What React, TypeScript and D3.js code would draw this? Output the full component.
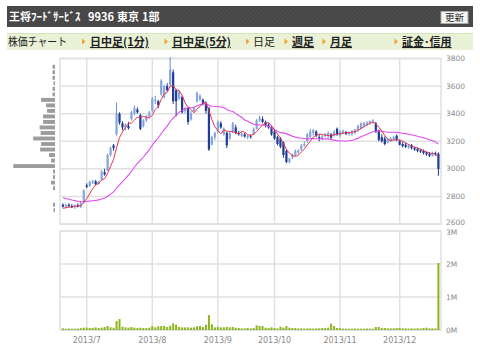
import React from "react";
import * as d3 from "d3";

// ---------- data ----------
const titleParts = ["王将ﾌｰﾄﾞｻｰﾋﾞｽ", "9936", "東京", "1部"];
const refreshLabel = "更新";
const navLead = "株価チャート";
const navLinks = ["日中足(1分)", "日中足(5分)", "日足", "週足", "月足", "証金･信用"];
const navActive = "日足";

const monthLabels = ["2013/7", "2013/8", "2013/9", "2013/10", "2013/11", "2013/12"];
const monthStartIdx = [8, 30, 52, 71, 93, 113];
const priceTicks = [2600, 2800, 3000, 3200, 3400, 3600, 3800];
const volumeTicks = [0, 1000, 2000, 3000]; // thousand shares
const volumeTickLabels = ["0M", "1M", "2M", "3M"];

const opens = [
  2740, 2725, 2740, 2730, 2720, 2735, 2725, 2755, 2880, 2875,
  2900, 2910, 2890, 2920, 2975, 2990, 3100, 3170, 3250, 3400,
  3330, 3300, 3310, 3360, 3400, 3430, 3390, 3310, 3350, 3380,
  3420, 3490, 3490, 3540, 3520, 3600, 3610, 3700, 3570, 3510,
  3520, 3420, 3440, 3360, 3420, 3490, 3500, 3500, 3470, 3440,
  3175, 3230, 3270, 3330, 3250, 3260, 3220, 3270, 3300, 3260,
  3240, 3250, 3230, 3235, 3250, 3290, 3350, 3360, 3340, 3320,
  3300, 3270, 3230, 3220, 3190, 3130, 3050, 3080, 3100, 3120,
  3140, 3170, 3200, 3230, 3260, 3270, 3230, 3220, 3240, 3240,
  3250, 3240, 3290, 3240, 3260, 3260, 3255, 3250, 3260, 3280,
  3290, 3310, 3320, 3330, 3340, 3330, 3280, 3230, 3220, 3190,
  3200, 3210, 3240, 3200, 3180, 3175, 3155, 3170, 3150, 3145,
  3135, 3130, 3120, 3110, 3095, 3115, 3110,
];
const highs = [
  2750, 2745, 2750, 2745, 2740, 2750, 2760, 2850, 2895, 2915,
  2920, 2920, 2915, 2990, 3000, 3110, 3160, 3180, 3480, 3410,
  3345, 3330, 3340, 3420, 3460, 3445, 3400, 3360, 3390, 3420,
  3520, 3530, 3500, 3650, 3610, 3620, 3810, 3720, 3580, 3570,
  3530, 3450, 3445, 3420, 3450, 3560, 3540, 3510, 3490, 3450,
  3240, 3270, 3350, 3345, 3300, 3270, 3270, 3340, 3320, 3275,
  3265, 3260, 3245, 3250, 3300, 3360, 3385, 3380, 3350, 3330,
  3310, 3290, 3240, 3230, 3200, 3140, 3080, 3110, 3140, 3140,
  3180, 3200, 3260, 3290, 3290, 3280, 3250, 3245, 3260, 3270,
  3260, 3280, 3300, 3280, 3285, 3275, 3270, 3280, 3290, 3320,
  3335, 3340, 3345, 3350, 3360, 3340, 3285, 3250, 3235, 3225,
  3230, 3240, 3250, 3210, 3195, 3190, 3180, 3180, 3160, 3155,
  3145, 3140, 3125, 3120, 3125, 3125, 3120,
];
const lows = [
  2720, 2715, 2720, 2715, 2710, 2720, 2715, 2750, 2860, 2870,
  2890, 2880, 2885, 2915, 2950, 2985, 3090, 3130, 3240, 3320,
  3280, 3280, 3285, 3350, 3390, 3400, 3280, 3300, 3340, 3370,
  3410, 3470, 3440, 3530, 3510, 3560, 3600, 3470, 3380, 3500,
  3400, 3400, 3320, 3350, 3410, 3480, 3490, 3460, 3400, 3130,
  3170, 3210, 3260, 3290, 3240, 3150, 3210, 3260, 3250, 3240,
  3230, 3225, 3215, 3220, 3245, 3285, 3340, 3330, 3300, 3290,
  3240, 3210, 3170, 3150, 3080, 3040, 3040, 3070, 3090, 3110,
  3130, 3160, 3190, 3220, 3240, 3230, 3200, 3210, 3230, 3220,
  3210, 3235, 3240, 3230, 3250, 3245, 3240, 3240, 3250, 3270,
  3285, 3300, 3310, 3320, 3330, 3260, 3200, 3190, 3170, 3185,
  3195, 3205, 3200, 3170, 3155, 3150, 3145, 3140, 3130, 3120,
  3115, 3105, 3095, 3085, 3090, 3095, 2950,
];
const closes = [
  2725, 2740, 2730, 2720, 2735, 2725, 2750, 2845, 2870, 2905,
  2910, 2890, 2905, 2980, 2960, 3100, 3150, 3150, 3400, 3335,
  3300, 3320, 3295, 3410, 3440, 3410, 3290, 3350, 3380, 3410,
  3510, 3500, 3460, 3640, 3600, 3570, 3720, 3490, 3490, 3560,
  3410, 3440, 3340, 3400, 3440, 3550, 3530, 3470, 3420, 3140,
  3230, 3260, 3340, 3300, 3290, 3170, 3260, 3330, 3260, 3250,
  3255, 3235, 3240, 3230, 3290, 3350, 3370, 3340, 3310, 3300,
  3250, 3220, 3180, 3160, 3100, 3050, 3075, 3100, 3130, 3135,
  3170, 3180, 3250, 3270, 3280, 3240, 3220, 3235, 3250, 3260,
  3225, 3270, 3250, 3270, 3275, 3255, 3260, 3275, 3285, 3310,
  3330, 3330, 3335, 3345, 3350, 3270, 3210, 3200, 3180, 3215,
  3220, 3230, 3210, 3175, 3165, 3160, 3170, 3150, 3140, 3130,
  3125, 3115, 3105, 3095, 3115, 3105, 3000,
];
// closes of the 24 sessions before the chart starts (seed for the moving averages)
const preCloses = [
  2880, 2870, 2860, 2850, 2840, 2825, 2850, 2845, 2835, 2830,
  2820, 2820, 2810, 2790, 2780, 2765, 2750, 2740, 2730, 2716,
  2720, 2705, 2714, 2705,
];
// daily volume, thousand shares
const volumes = [
  50, 40, 45, 40, 40, 45, 55, 70, 70, 60,
  65, 80, 60, 70, 90, 120, 80, 70, 270, 330,
  100, 80, 70, 90, 70, 60, 70, 60, 60, 70,
  120, 80, 110, 120, 120, 90, 130, 200, 160, 90,
  80, 80, 80, 70, 80, 110, 120, 90, 160, 450,
  170, 80, 90, 80, 80, 90, 80, 90, 70, 60,
  50, 50, 60, 50, 60, 140, 120, 120, 70, 60,
  80, 60, 50, 100, 70, 120, 70, 60, 60, 50,
  50, 45, 50, 50, 45, 50, 50, 60, 60, 70,
  190, 120, 60, 60, 40, 40, 40, 40, 45, 40,
  40, 40, 45, 40, 40, 90, 90, 60, 60, 50,
  50, 50, 60, 60, 50, 50, 45, 50, 45, 50,
  45, 60, 70, 50, 50, 50, 2030,
];
// volume-by-price profile, 40-yen bins starting at 2680
const profileStart = 2680;
const profileStep = 40;
const profileVolumes = [
  1.5, 2, 0, 0, 2, 4, 2, 2, 42, 4,
  6, 15, 14, 22, 14.5, 15.5, 12, 12, 8, 9,
  14, 2.5, 2.5, 1.5, 2.5, 2.5, 2.5,
];

// ---------- helpers ----------
function movingAverage(period: number): number[] {
  const all = [...preCloses, ...closes];
  const off = preCloses.length;
  return closes.map((_, i) => d3.mean(all.slice(off + i - period + 1, off + i + 1)) as number);
}

const UP = "#87a5da";
const UP_STROKE = "#6f8fcb";
const DOWN = "#1d3b98";
const GRID = "#e0e0e0";
const AXIS_TEXT = "#8a8a8a";

export default function App() {
  const idx = closes.map((_, i) => i);
  const x = d3.scaleBand<number>().domain(idx).range([61.4, 439.9]).padding(0);
  const cx = (i: number) => (x(i) as number) + x.bandwidth() / 2;

  const plotL = 60, plotR = 441;
  const mainTop = 58.5, mainBot = 224;
  const volTop = 231, volBot = 330;

  const y = d3.scaleLinear().domain([2600, 3800]).range([mainBot, mainTop]);
  const yv = d3.scaleLinear().domain([0, 3000]).range([volBot, volTop]);
  const prof = d3.scaleLinear().domain([0, d3.max(profileVolumes) as number]).range([0, 41.7]);

  const ma5 = movingAverage(5);
  const ma25 = movingAverage(25);
  const line = d3.line<number>().x((_, i) => cx(i)).y((d) => y(d)).curve(d3.curveLinear);

  const monthX = monthStartIdx.map((i) => cx(i));

  const font = "'DejaVu Sans', Verdana, sans-serif";
  const jp = "'Noto Sans CJK JP', sans-serif";

  const navArrowX = [82, 164.5, 246, 284.5, 322.5, 394.5];
  const navTextX = [90, 172, 253, 292, 330, 402];

  return (
    <svg width={480} height={356} style={{ position: "absolute", left: 0, top: 0 }}>
      <defs>
        <pattern id="stripes" width="3" height="3" patternUnits="userSpaceOnUse" patternTransform="rotate(45)">
          <rect width="3" height="3" fill="#454545" />
          <line x1="0" y1="0" x2="0" y2="3" stroke="#555" strokeWidth="1.2" />
        </pattern>
      </defs>
      <rect width={480} height={356} fill="#fff" />

      {/* header */}
      <rect x={7} y={6} width={466} height={21} fill="url(#stripes)" />
      <text y={21} fill="#fff" fontFamily={jp} fontSize={11} fontWeight={700}>
        <tspan x={9}>{titleParts[0]}</tspan>
        <tspan x={88}>{titleParts[1]}</tspan>
        <tspan x={117}>{titleParts[2]}</tspan>
        <tspan x={142}>{titleParts[3]}</tspan>
      </text>
      <rect x={441} y={11.5} width={27} height={12} fill="#f6f6f6" stroke="#aaa" strokeWidth={1} />
      <text x={454.5} y={21.3} textAnchor="middle" fontFamily={jp} fontSize={9.5} fill="#222">{refreshLabel}</text>

      {/* nav */}
      <rect x={7} y={33} width={466} height={17} fill="#e9f1d7" />
      <line x1={7} x2={473} y1={33.5} y2={33.5} stroke="#d6e4bb" />
      <text x={8} y={46} fontFamily={jp} fontSize={11} fill="#222" textLength={59} lengthAdjust="spacingAndGlyphs">{navLead}</text>
      {navLinks.map((t, k) => (
        <g key={t}>
          <path d={`M${navArrowX[k]},${38.5} L${navArrowX[k] + 3.5},${41.5} L${navArrowX[k]},${44.5} Z`} fill="#f0a22a" />
          <text
            x={navTextX[k]}
            y={46}
            fontFamily={jp}
            fontSize={11}
            fontWeight={t === navActive ? 400 : 700}
            fill="#222"
            style={{ textDecoration: t === navActive ? "none" : "underline" }}
          >
            {t}
          </text>
        </g>
      ))}

      {/* main grid */}
      {priceTicks.map((p) => (
        <line key={p} x1={plotL} x2={plotR} y1={y(p)} y2={y(p)} stroke={GRID} strokeWidth={1.5} />
      ))}
      {monthX.map((mx, k) => (
        <line key={k} x1={mx} x2={mx} y1={mainTop} y2={mainBot} stroke={GRID} strokeWidth={1.5} />
      ))}
      <rect x={plotL} y={mainTop} width={plotR - plotL} height={mainBot - mainTop} fill="none" stroke={GRID} strokeWidth={1.5} />

      {/* volume profile */}
      {profileVolumes.map((v, k) => {
        const lo = profileStart + k * profileStep;
        const w = prof(v);
        if (w <= 0) return null;
        const y1 = y(lo + profileStep) + 0.8;
        const y2 = y(lo) - 0.8;
        return <rect key={k} x={55 - w} y={y1} width={w} height={y2 - y1} fill="#9c9c9c" />;
      })}

      {/* candles */}
      {closes.map((c, i) => {
        const o = opens[i];
        const up = c >= o;
        const col = up ? UP : DOWN;
        const top = y(Math.max(o, c));
        const h = Math.max(1, Math.abs(y(o) - y(c)));
        return (
          <g key={i}>
            <line x1={cx(i)} x2={cx(i)} y1={y(highs[i])} y2={y(lows[i])} stroke={up ? UP_STROKE : DOWN} strokeWidth={1} />
            <rect x={cx(i) - 1.1} y={top} width={2.2} height={h} fill={col} />
          </g>
        );
      })}

      {/* moving averages */}
      <path d={line(ma25) as string} fill="none" stroke="#e04cf0" strokeWidth={1.1} />
      <path d={line(ma5) as string} fill="none" stroke="#e8344e" strokeWidth={1} />

      {/* price labels */}
      {priceTicks.map((p) => (
        <text key={p} x={446} y={p === 2600 ? y(p) - 1.5 : y(p)} dy="0.35em" fontFamily={font} fontSize={7.5} fill={AXIS_TEXT}>{p}</text>
      ))}

      {/* volume grid */}
      {volumeTicks.map((v) => (
        <line key={v} x1={plotL} x2={plotR} y1={yv(v)} y2={yv(v)} stroke={GRID} strokeWidth={1.5} />
      ))}
      {monthX.map((mx, k) => (
        <line key={k} x1={mx} x2={mx} y1={volTop} y2={volBot} stroke={GRID} strokeWidth={1.5} />
      ))}
      <rect x={plotL} y={volTop} width={plotR - plotL} height={volBot - volTop} fill="none" stroke={GRID} strokeWidth={1.5} />

      {volumes.map((v, i) => (
        <rect key={i} x={cx(i) - 1} y={yv(v)} width={2} height={volBot - yv(v)} fill="#8bb41e" />
      ))}

      {volumeTicks.map((v, k) => (
        <text key={v} x={446} y={v === 3000 ? yv(v) + 1.5 : yv(v)} dy="0.35em" fontFamily={font} fontSize={7.5} fill={AXIS_TEXT}>{volumeTickLabels[k]}</text>
      ))}

      {/* month labels */}
      {monthLabels.map((m, k) => (
        <text key={m} x={monthX[k]} y={343} textAnchor="middle" fontFamily={font} fontSize={8} fill={AXIS_TEXT}>{m}</text>
      ))}
    </svg>
  );
}
